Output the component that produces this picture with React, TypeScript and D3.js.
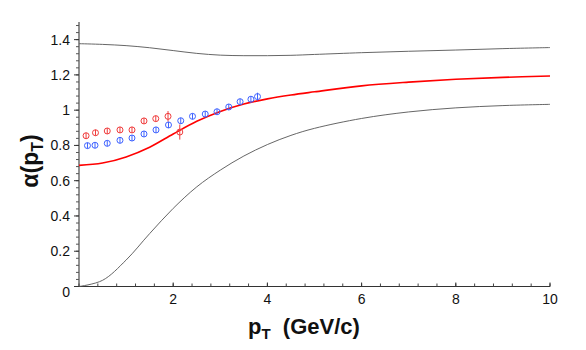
import * as d3 from 'd3';

// model curves sampled along pT
const curveX = [0, 0.5, 1, 1.5, 2, 2.5, 3, 3.5, 4, 4.5, 5, 6, 7, 8, 9, 10];
const upperBand = [1.377, 1.373, 1.366, 1.354, 1.338, 1.322, 1.312, 1.309, 1.309, 1.311, 1.316, 1.326, 1.334, 1.341, 1.349, 1.355];
const central = [0.687, 0.7, 0.735, 0.79, 0.865, 0.937, 0.993, 1.035, 1.064, 1.086, 1.104, 1.138, 1.159, 1.175, 1.186, 1.194];
const lowerBand = [0, 0.035, 0.15, 0.3, 0.443, 0.565, 0.66, 0.74, 0.805, 0.857, 0.897, 0.953, 0.99, 1.013, 1.026, 1.033];

// measured points
const redX = [0.15, 0.35, 0.6, 0.87, 1.125, 1.38, 1.63, 1.89, 2.14];
const redY = [0.855, 0.872, 0.882, 0.888, 0.888, 0.939, 0.952, 0.965, 0.876];
const redErr = [0.012, 0.012, 0.012, 0.012, 0.012, 0.014, 0.016, 0.03, 0.043];

const blueX = [0.18, 0.34, 0.6, 0.87, 1.125, 1.38, 1.635, 1.9, 2.16, 2.41, 2.68, 2.93, 3.18, 3.42, 3.65, 3.79];
const blueY = [0.799, 0.801, 0.812, 0.829, 0.842, 0.865, 0.888, 0.916, 0.94, 0.965, 0.978, 0.991, 1.018, 1.048, 1.062, 1.077];
const blueErr = [0.01, 0.01, 0.01, 0.01, 0.01, 0.01, 0.01, 0.012, 0.012, 0.012, 0.012, 0.012, 0.014, 0.016, 0.018, 0.022];

const xTicks = [2, 4, 6, 8, 10];
const yTicks = [0, 0.2, 0.4, 0.6, 0.8, 1, 1.2, 1.4];

const W = 586;
const H = 350;
const FONT = '"Liberation Sans", Arial, Helvetica, sans-serif';

export default function App() {
  const x = d3.scaleLinear().domain([0, 10]).range([79, 550]);
  const y = d3.scaleLinear().domain([0, 1.5]).range([286.5, 22]);

  const line = d3
    .line<number>()
    .x((_, i) => x(curveX[i]))
    .y((d) => y(d))
    .curve(d3.curveCatmullRom.alpha(0.5));

  const xMinor = d3.range(0, 10.001, 0.4);
  const yMinor = d3.range(0, 1.501, 0.04);

  const points = (xs: number[], ys: number[], errs: number[], color: string) =>
    xs.map((xv, i) => {
      const cx = x(xv);
      const cy = y(ys[i]);
      const e = Math.max(errs[i], 0.017);
      return (
        <g key={i}>
          <line x1={cx} x2={cx} y1={y(ys[i] + e)} y2={y(ys[i] - e)} stroke={color} strokeWidth={1} />
          <circle cx={cx} cy={cy} r={3} fill="none" stroke={color} strokeWidth={1} />
        </g>
      );
    });

  return (
    <svg
      width={W}
      height={H}
      style={{ position: 'absolute', left: 0, top: 0, background: '#fff' }}
      fontFamily={FONT}
    >
      {/* y axis */}
      <line x1={x(0)} x2={x(0)} y1={y(0)} y2={y(1.5)} stroke="#777" strokeWidth={1.6} />
      {yMinor.map((v, i) => (
        <line key={'ym' + i} x1={x(0) - 3} x2={x(0)} y1={y(v)} y2={y(v)} stroke="#555" strokeWidth={1} />
      ))}
      {yTicks.map((v) => (
        <g key={'yt' + v}>
          <line x1={x(0) - 5} x2={x(0)} y1={y(v)} y2={y(v)} stroke="#333" strokeWidth={1} />
          <text x={70} y={y(v)} dy={v === 0 ? '0.75em' : '0.35em'} textAnchor="end" fontSize={14} fill="#111">
            {d3.format('~g')(v)}
          </text>
        </g>
      ))}

      {/* x axis */}
      <line x1={x(0)} x2={x(10)} y1={y(0)} y2={y(0)} stroke="#333" strokeWidth={1} />
      {xMinor.map((v, i) => (
        <line key={'xm' + i} x1={x(v)} x2={x(v)} y1={y(0)} y2={y(0) - 3} stroke="#444" strokeWidth={1} />
      ))}
      {xTicks.map((v) => (
        <g key={'xt' + v}>
          <line x1={x(v)} x2={x(v)} y1={y(0)} y2={y(0) - 4} stroke="#333" strokeWidth={1} />
          <text x={x(v)} y={y(0) + 17} textAnchor="middle" fontSize={14} fill="#111">
            {v}
          </text>
        </g>
      ))}

      {/* curves */}
      <path d={line(upperBand) || ''} fill="none" stroke="#555" strokeWidth={0.9} />
      <path d={line(lowerBand) || ''} fill="none" stroke="#555" strokeWidth={0.9} />
      <path d={line(central) || ''} fill="none" stroke="#ff0000" strokeWidth={1.6} />

      {/* data */}
      {points(redX, redY, redErr, '#f03c3c')}
      {points(blueX, blueY, blueErr, '#3f63ff')}

      {/* axis titles */}
      <text x={248} y={334} fontSize={22} fontWeight="bold" fill="#111">
        p<tspan fontSize={15} dy={5}>T</tspan>
        <tspan dy={-5}>{'\u00a0\u00a0(GeV/c)'}</tspan>
      </text>
      <text
        transform="translate(38,161) rotate(-90)"
        textAnchor="middle"
        fontSize={23}
        fontWeight="bold"
        fill="#111"
      >
        α(p<tspan fontSize={16} dy={5}>T</tspan>
        <tspan dy={-5}>)</tspan>
      </text>
    </svg>
  );
}
